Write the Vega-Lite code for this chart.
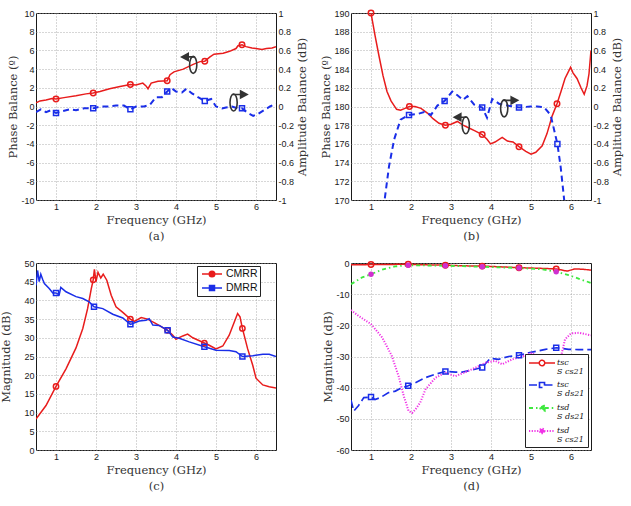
{
  "$schema": "https://vega.github.io/schema/vega-lite/v6.json",
  "background": "white",
  "padding": {"left": 0, "top": 6, "right": 2, "bottom": 2},
  "spacing": 16,
  "datasets": {
    "a_phase": [
      {"f": 0.5, "v": 0.4}, {"f": 0.6, "v": 0.6}, {"f": 0.75, "v": 0.7}, {"f": 0.9, "v": 0.85}, {"f": 1, "v": 0.8},
      {"f": 1.2, "v": 0.95}, {"f": 1.5, "v": 1.15}, {"f": 1.75, "v": 1.35}, {"f": 1.93, "v": 1.45}, {"f": 2.1, "v": 1.6},
      {"f": 2.34, "v": 1.9}, {"f": 2.6, "v": 2.15}, {"f": 2.86, "v": 2.35}, {"f": 3.0, "v": 2.3}, {"f": 3.17, "v": 2.5},
      {"f": 3.25, "v": 2.2}, {"f": 3.3, "v": 1.9}, {"f": 3.38, "v": 2.5}, {"f": 3.55, "v": 2.7}, {"f": 3.78, "v": 2.75},
      {"f": 3.85, "v": 3.4}, {"f": 3.95, "v": 3.7}, {"f": 4.18, "v": 4.0}, {"f": 4.43, "v": 4.5}, {"f": 4.6, "v": 4.8},
      {"f": 4.72, "v": 4.85}, {"f": 4.85, "v": 5.3}, {"f": 4.95, "v": 5.6}, {"f": 5.18, "v": 5.7}, {"f": 5.34, "v": 5.9},
      {"f": 5.5, "v": 6.2}, {"f": 5.55, "v": 6.5}, {"f": 5.65, "v": 6.6}, {"f": 5.75, "v": 6.4}, {"f": 5.9, "v": 6.25},
      {"f": 6.0, "v": 6.2}, {"f": 6.15, "v": 6.1}, {"f": 6.26, "v": 6.2}, {"f": 6.4, "v": 6.25}, {"f": 6.5, "v": 6.4}
    ],
    "a_amp": [
      {"f": 0.5, "v": -0.06}, {"f": 0.62, "v": -0.03}, {"f": 0.75, "v": -0.06}, {"f": 0.87, "v": -0.04}, {"f": 1, "v": -0.07},
      {"f": 1.15, "v": -0.05}, {"f": 1.35, "v": -0.03}, {"f": 1.5, "v": -0.04}, {"f": 1.7, "v": -0.02}, {"f": 1.93, "v": -0.02},
      {"f": 2.1, "v": 0.0}, {"f": 2.3, "v": 0.0}, {"f": 2.5, "v": 0.01}, {"f": 2.7, "v": 0.01}, {"f": 2.86, "v": -0.03},
      {"f": 3.0, "v": 0.0}, {"f": 3.2, "v": 0.0}, {"f": 3.35, "v": 0.02}, {"f": 3.5, "v": 0.1}, {"f": 3.65, "v": 0.1},
      {"f": 3.78, "v": 0.16}, {"f": 3.88, "v": 0.2}, {"f": 4.0, "v": 0.16}, {"f": 4.15, "v": 0.15}, {"f": 4.26, "v": 0.19},
      {"f": 4.4, "v": 0.14}, {"f": 4.55, "v": 0.1}, {"f": 4.72, "v": 0.06}, {"f": 4.88, "v": 0.08}, {"f": 5.0, "v": 0.0},
      {"f": 5.15, "v": -0.02}, {"f": 5.25, "v": -0.01}, {"f": 5.4, "v": 0.0}, {"f": 5.55, "v": -0.02}, {"f": 5.65, "v": -0.02},
      {"f": 5.8, "v": -0.07}, {"f": 5.93, "v": -0.1}, {"f": 6.05, "v": -0.08}, {"f": 6.2, "v": -0.04}, {"f": 6.35, "v": 0.0},
      {"f": 6.5, "v": 0.03}
    ],
    "b_phase": [
      {"f": 1, "v": 190}, {"f": 1.05, "v": 188.8}, {"f": 1.1, "v": 187.6}, {"f": 1.2, "v": 185.4}, {"f": 1.3, "v": 183.3},
      {"f": 1.4, "v": 181.6}, {"f": 1.5, "v": 180.6}, {"f": 1.64, "v": 179.7}, {"f": 1.74, "v": 179.6}, {"f": 1.85, "v": 179.8},
      {"f": 1.96, "v": 180.0}, {"f": 2.1, "v": 180.0}, {"f": 2.25, "v": 179.8}, {"f": 2.41, "v": 179.3}, {"f": 2.55, "v": 178.7},
      {"f": 2.7, "v": 178.2}, {"f": 2.86, "v": 178.0}, {"f": 3.0, "v": 178.1}, {"f": 3.16, "v": 178.4}, {"f": 3.3, "v": 178.0},
      {"f": 3.45, "v": 177.7}, {"f": 3.6, "v": 177.4}, {"f": 3.78, "v": 177.0}, {"f": 3.9, "v": 176.5}, {"f": 3.99, "v": 176.0},
      {"f": 4.1, "v": 176.2}, {"f": 4.28, "v": 176.7}, {"f": 4.41, "v": 176.3}, {"f": 4.55, "v": 176.2}, {"f": 4.7, "v": 175.7},
      {"f": 4.87, "v": 175.2}, {"f": 5.0, "v": 174.9}, {"f": 5.12, "v": 175.1}, {"f": 5.28, "v": 175.8}, {"f": 5.4, "v": 177.1},
      {"f": 5.53, "v": 179.0}, {"f": 5.65, "v": 180.3}, {"f": 5.75, "v": 181.6}, {"f": 5.85, "v": 183.0}, {"f": 5.92, "v": 183.6},
      {"f": 5.99, "v": 184.2}, {"f": 6.05, "v": 183.6}, {"f": 6.15, "v": 183.0}, {"f": 6.25, "v": 182.0}, {"f": 6.33, "v": 181.3},
      {"f": 6.4, "v": 182.2}, {"f": 6.45, "v": 183.5}, {"f": 6.5, "v": 186.0}
    ],
    "b_amp": [
      {"f": 1.25, "v": -1.3}, {"f": 1.34, "v": -1.0}, {"f": 1.45, "v": -0.64}, {"f": 1.58, "v": -0.35}, {"f": 1.74, "v": -0.14},
      {"f": 1.95, "v": -0.09}, {"f": 2.16, "v": -0.08}, {"f": 2.33, "v": -0.06}, {"f": 2.5, "v": -0.09}, {"f": 2.66, "v": 0.01},
      {"f": 2.84, "v": 0.06}, {"f": 3.03, "v": 0.16}, {"f": 3.16, "v": 0.12}, {"f": 3.3, "v": 0.07}, {"f": 3.41, "v": 0.11},
      {"f": 3.58, "v": 0.02}, {"f": 3.78, "v": -0.01}, {"f": 3.9, "v": -0.12}, {"f": 4.03, "v": 0.08}, {"f": 4.2, "v": 0.03},
      {"f": 4.41, "v": 0.01}, {"f": 4.7, "v": -0.01}, {"f": 4.99, "v": 0.0}, {"f": 5.16, "v": 0.0}, {"f": 5.33, "v": -0.01},
      {"f": 5.49, "v": -0.09}, {"f": 5.66, "v": -0.4}, {"f": 5.74, "v": -0.64}, {"f": 5.83, "v": -1.0}, {"f": 5.9, "v": -1.3}
    ],
    "c": [
      {"s": "CMRR", "f": 0.5, "v": 8.3}, {"s": "CMRR", "f": 0.75, "v": 11.9}, {"s": "CMRR", "f": 1, "v": 17.0},
      {"s": "CMRR", "f": 1.25, "v": 21.7}, {"s": "CMRR", "f": 1.5, "v": 27.3}, {"s": "CMRR", "f": 1.67, "v": 32.5},
      {"s": "CMRR", "f": 1.79, "v": 37.8}, {"s": "CMRR", "f": 1.88, "v": 43.0}, {"s": "CMRR", "f": 1.93, "v": 45.5},
      {"s": "CMRR", "f": 1.96, "v": 48.3}, {"s": "CMRR", "f": 2.0, "v": 45.0}, {"s": "CMRR", "f": 2.05, "v": 47.5},
      {"s": "CMRR", "f": 2.12, "v": 46.0}, {"s": "CMRR", "f": 2.18, "v": 47.0}, {"s": "CMRR", "f": 2.27, "v": 45.4},
      {"s": "CMRR", "f": 2.38, "v": 41.4}, {"s": "CMRR", "f": 2.5, "v": 38.3}, {"s": "CMRR", "f": 2.67, "v": 36.8},
      {"s": "CMRR", "f": 2.86, "v": 35.0}, {"s": "CMRR", "f": 2.96, "v": 34.4}, {"s": "CMRR", "f": 3.13, "v": 35.4},
      {"s": "CMRR", "f": 3.29, "v": 35.0}, {"s": "CMRR", "f": 3.5, "v": 33.8}, {"s": "CMRR", "f": 3.79, "v": 32.0},
      {"s": "CMRR", "f": 3.92, "v": 30.7}, {"s": "CMRR", "f": 4.0, "v": 29.6}, {"s": "CMRR", "f": 4.17, "v": 30.5},
      {"s": "CMRR", "f": 4.29, "v": 31.0}, {"s": "CMRR", "f": 4.42, "v": 30.0}, {"s": "CMRR", "f": 4.71, "v": 28.6},
      {"s": "CMRR", "f": 4.83, "v": 28.0}, {"s": "CMRR", "f": 5.0, "v": 27.0}, {"s": "CMRR", "f": 5.17, "v": 27.8},
      {"s": "CMRR", "f": 5.33, "v": 30.7}, {"s": "CMRR", "f": 5.46, "v": 34.3}, {"s": "CMRR", "f": 5.54, "v": 36.5},
      {"s": "CMRR", "f": 5.6, "v": 35.6}, {"s": "CMRR", "f": 5.66, "v": 32.5}, {"s": "CMRR", "f": 5.79, "v": 27.1},
      {"s": "CMRR", "f": 5.92, "v": 22.6}, {"s": "CMRR", "f": 6.0, "v": 19.2}, {"s": "CMRR", "f": 6.17, "v": 17.4},
      {"s": "CMRR", "f": 6.33, "v": 16.9}, {"s": "CMRR", "f": 6.5, "v": 16.6},
      {"s": "DMRR", "f": 0.5, "v": 44.0}, {"s": "DMRR", "f": 0.54, "v": 48.0}, {"s": "DMRR", "f": 0.58, "v": 45.0},
      {"s": "DMRR", "f": 0.62, "v": 47.0}, {"s": "DMRR", "f": 0.67, "v": 45.5}, {"s": "DMRR", "f": 0.71, "v": 44.5},
      {"s": "DMRR", "f": 0.83, "v": 43.2}, {"s": "DMRR", "f": 0.92, "v": 42.0}, {"s": "DMRR", "f": 1, "v": 42.0},
      {"s": "DMRR", "f": 1.08, "v": 41.5}, {"s": "DMRR", "f": 1.12, "v": 43.5}, {"s": "DMRR", "f": 1.25, "v": 42.3},
      {"s": "DMRR", "f": 1.5, "v": 41.0}, {"s": "DMRR", "f": 1.67, "v": 40.5}, {"s": "DMRR", "f": 1.83, "v": 39.6},
      {"s": "DMRR", "f": 1.95, "v": 38.3}, {"s": "DMRR", "f": 2.17, "v": 37.8}, {"s": "DMRR", "f": 2.42, "v": 36.3},
      {"s": "DMRR", "f": 2.67, "v": 35.3}, {"s": "DMRR", "f": 2.86, "v": 33.6}, {"s": "DMRR", "f": 3.08, "v": 34.5},
      {"s": "DMRR", "f": 3.25, "v": 34.7}, {"s": "DMRR", "f": 3.33, "v": 35.1}, {"s": "DMRR", "f": 3.42, "v": 33.4},
      {"s": "DMRR", "f": 3.58, "v": 33.3}, {"s": "DMRR", "f": 3.79, "v": 32.0}, {"s": "DMRR", "f": 3.92, "v": 30.2},
      {"s": "DMRR", "f": 4.08, "v": 29.9}, {"s": "DMRR", "f": 4.33, "v": 28.9}, {"s": "DMRR", "f": 4.71, "v": 27.6},
      {"s": "DMRR", "f": 5.0, "v": 26.7}, {"s": "DMRR", "f": 5.33, "v": 26.6}, {"s": "DMRR", "f": 5.5, "v": 26.3},
      {"s": "DMRR", "f": 5.66, "v": 25.0}, {"s": "DMRR", "f": 5.92, "v": 25.2}, {"s": "DMRR", "f": 6.17, "v": 25.6},
      {"s": "DMRR", "f": 6.33, "v": 25.6}, {"s": "DMRR", "f": 6.5, "v": 25.0}
    ],
    "d": [
      {"s": "cs21|tsc", "f": 0.5, "v": -0.6}, {"s": "cs21|tsc", "f": 1, "v": -0.5}, {"s": "cs21|tsc", "f": 1.5, "v": -0.45},
      {"s": "cs21|tsc", "f": 1.93, "v": -0.4}, {"s": "cs21|tsc", "f": 2.4, "v": -0.6}, {"s": "cs21|tsc", "f": 2.86, "v": -0.7},
      {"s": "cs21|tsc", "f": 3.3, "v": -0.9}, {"s": "cs21|tsc", "f": 3.78, "v": -1.0}, {"s": "cs21|tsc", "f": 4.2, "v": -1.2},
      {"s": "cs21|tsc", "f": 4.7, "v": -1.5}, {"s": "cs21|tsc", "f": 5.2, "v": -1.7}, {"s": "cs21|tsc", "f": 5.63, "v": -1.9},
      {"s": "cs21|tsc", "f": 5.9, "v": -2.6}, {"s": "cs21|tsc", "f": 6.1, "v": -1.9}, {"s": "cs21|tsc", "f": 6.3, "v": -2.0},
      {"s": "cs21|tsc", "f": 6.5, "v": -2.3},
      {"s": "ds21|tsc", "f": 0.5, "v": -44.0}, {"s": "ds21|tsc", "f": 0.57, "v": -47.5}, {"s": "ds21|tsc", "f": 0.69, "v": -45.7},
      {"s": "ds21|tsc", "f": 0.82, "v": -43.2}, {"s": "ds21|tsc", "f": 1, "v": -43.0}, {"s": "ds21|tsc", "f": 1.1, "v": -43.8},
      {"s": "ds21|tsc", "f": 1.23, "v": -43.2}, {"s": "ds21|tsc", "f": 1.44, "v": -41.6}, {"s": "ds21|tsc", "f": 1.61, "v": -41.1},
      {"s": "ds21|tsc", "f": 1.73, "v": -40.3}, {"s": "ds21|tsc", "f": 1.93, "v": -39.4}, {"s": "ds21|tsc", "f": 2.11, "v": -38.4},
      {"s": "ds21|tsc", "f": 2.36, "v": -36.8}, {"s": "ds21|tsc", "f": 2.61, "v": -35.7}, {"s": "ds21|tsc", "f": 2.86, "v": -34.8},
      {"s": "ds21|tsc", "f": 3.11, "v": -35.0}, {"s": "ds21|tsc", "f": 3.28, "v": -35.0}, {"s": "ds21|tsc", "f": 3.53, "v": -34.3},
      {"s": "ds21|tsc", "f": 3.78, "v": -33.5}, {"s": "ds21|tsc", "f": 3.98, "v": -30.6}, {"s": "ds21|tsc", "f": 4.19, "v": -30.9},
      {"s": "ds21|tsc", "f": 4.44, "v": -30.0}, {"s": "ds21|tsc", "f": 4.7, "v": -29.6}, {"s": "ds21|tsc", "f": 4.94, "v": -28.8},
      {"s": "ds21|tsc", "f": 5.19, "v": -28.2}, {"s": "ds21|tsc", "f": 5.36, "v": -27.7}, {"s": "ds21|tsc", "f": 5.63, "v": -27.2},
      {"s": "ds21|tsc", "f": 5.94, "v": -27.7}, {"s": "ds21|tsc", "f": 6.19, "v": -27.8}, {"s": "ds21|tsc", "f": 6.5, "v": -27.8},
      {"s": "ds21|tsd", "f": 0.5, "v": -6.8}, {"s": "ds21|tsd", "f": 0.78, "v": -4.6}, {"s": "ds21|tsd", "f": 1, "v": -3.6},
      {"s": "ds21|tsd", "f": 1.28, "v": -2.1}, {"s": "ds21|tsd", "f": 1.6, "v": -1.1}, {"s": "ds21|tsd", "f": 1.93, "v": -0.7},
      {"s": "ds21|tsd", "f": 2.4, "v": -0.8}, {"s": "ds21|tsd", "f": 2.86, "v": -0.9}, {"s": "ds21|tsd", "f": 3.3, "v": -1.0},
      {"s": "ds21|tsd", "f": 3.78, "v": -1.2}, {"s": "ds21|tsd", "f": 4.2, "v": -1.4}, {"s": "ds21|tsd", "f": 4.7, "v": -1.6},
      {"s": "ds21|tsd", "f": 5.28, "v": -2.0}, {"s": "ds21|tsd", "f": 5.63, "v": -2.8}, {"s": "ds21|tsd", "f": 5.94, "v": -3.9},
      {"s": "ds21|tsd", "f": 6.23, "v": -5.2}, {"s": "ds21|tsd", "f": 6.5, "v": -6.4},
      {"s": "cs21|tsd", "f": 0.5, "v": -15.1}, {"s": "cs21|tsd", "f": 0.69, "v": -17.0}, {"s": "cs21|tsd", "f": 1, "v": -19.6},
      {"s": "cs21|tsd", "f": 1.28, "v": -23.9}, {"s": "cs21|tsd", "f": 1.52, "v": -29.8}, {"s": "cs21|tsd", "f": 1.69, "v": -36.3},
      {"s": "cs21|tsd", "f": 1.82, "v": -42.7}, {"s": "cs21|tsd", "f": 1.94, "v": -47.5}, {"s": "cs21|tsd", "f": 2.03, "v": -48.1},
      {"s": "cs21|tsd", "f": 2.11, "v": -47.0}, {"s": "cs21|tsd", "f": 2.23, "v": -44.8}, {"s": "cs21|tsd", "f": 2.36, "v": -40.6},
      {"s": "cs21|tsd", "f": 2.61, "v": -36.8}, {"s": "cs21|tsd", "f": 2.86, "v": -35.2}, {"s": "cs21|tsd", "f": 3.11, "v": -36.3},
      {"s": "cs21|tsd", "f": 3.36, "v": -35.0}, {"s": "cs21|tsd", "f": 3.61, "v": -33.6}, {"s": "cs21|tsd", "f": 3.86, "v": -32.0},
      {"s": "cs21|tsd", "f": 4.11, "v": -31.4}, {"s": "cs21|tsd", "f": 4.28, "v": -32.5}, {"s": "cs21|tsd", "f": 4.53, "v": -30.9},
      {"s": "cs21|tsd", "f": 4.78, "v": -30.0}, {"s": "cs21|tsd", "f": 5.03, "v": -28.8}, {"s": "cs21|tsd", "f": 5.19, "v": -30.9},
      {"s": "cs21|tsd", "f": 5.36, "v": -33.0}, {"s": "cs21|tsd", "f": 5.5, "v": -36.0}, {"s": "cs21|tsd", "f": 5.62, "v": -37.0},
      {"s": "cs21|tsd", "f": 5.75, "v": -30.0}, {"s": "cs21|tsd", "f": 5.85, "v": -24.5}, {"s": "cs21|tsd", "f": 6.0, "v": -22.6},
      {"s": "cs21|tsd", "f": 6.2, "v": -22.4}, {"s": "cs21|tsd", "f": 6.5, "v": -23.2}
    ]
  },
  "vconcat": [
    {
      "spacing": 11,
      "hconcat": [
        {
          "width": 240, "height": 187,
          "encoding": {
            "x": {"field": "f", "type": "quantitative", "scale": {"domain": [0.5, 6.5], "nice": false, "zero": false},
                  "axis": {"values": [1, 2, 3, 4, 5, 6], "title": ["Frequency (GHz)", "(a)"], "titleLineHeight": 16, "titlePadding": 3}}
          },
          "layer": [
            {
              "data": {"name": "a_phase"},
              "encoding": {
                "y": {"field": "v", "type": "quantitative", "scale": {"domain": [-10, 10], "nice": false, "zero": false},
                      "axis": {"values": [-10, -8, -6, -4, -2, 0, 2, 4, 6, 8, 10], "labelExpr": "'' + datum.value", "title": "Phase Balance (º)", "titlePadding": 2}}
              },
              "layer": [
                {"mark": {"type": "line", "color": "#e81c1c", "strokeWidth": 1.5, "clip": true}},
                {"transform": [{"filter": {"field": "f", "oneOf": [1, 1.93, 2.86, 3.78, 4.72, 5.65]}}],
                 "mark": {"type": "point", "shape": "circle", "stroke": "#e81c1c", "filled": false, "size": 30, "strokeWidth": 1.5, "opacity": 1}},
                {"data": {"values": [{"f": 4.43, "v": 4.45}]},
                 "mark": {"type": "point", "shape": "M0,-0.85A0.36,0.85 0 1,1 0,0.85A0.36,0.85 0 1,1 0,-0.85", "size": 400, "filled": false, "stroke": "#333", "strokeWidth": 1.6, "opacity": 1}},
                {"data": {"values": [{"f": 4.43, "v": 4.45}]},
                 "mark": {"type": "point", "shape": "M0.1,-0.8L-0.55,-0.8M-0.5,-1.15L-1.15,-0.8L-0.5,-0.45Z", "size": 400, "filled": true, "fill": "#333", "stroke": "#333", "strokeWidth": 1.6, "opacity": 1}}
              ]
            },
            {
              "data": {"name": "a_amp"},
              "encoding": {
                "y": {"field": "v", "type": "quantitative", "scale": {"domain": [-1, 1], "nice": false, "zero": false},
                      "axis": {"orient": "right", "grid": false, "values": [-1, -0.8, -0.6, -0.4, -0.2, 0, 0.2, 0.4, 0.6, 0.8, 1], "labelExpr": "'' + datum.value", "title": "Amplitude Balance (dB)", "titleAngle": 270, "titleBaseline": "top", "titlePadding": 3}}
              },
              "layer": [
                {"mark": {"type": "line", "color": "#1a2ee8", "strokeWidth": 2, "strokeDash": [6, 4], "clip": true}},
                {"transform": [{"filter": {"field": "f", "oneOf": [1, 1.93, 2.86, 3.78, 4.72, 5.65]}}],
                 "mark": {"type": "point", "shape": "square", "stroke": "#1a2ee8", "filled": false, "size": 25, "strokeWidth": 1.5, "opacity": 1}},
                {"data": {"values": [{"f": 5.44, "v": 0.043}]},
                 "mark": {"type": "point", "shape": "M0,-0.85A0.36,0.85 0 1,1 0,0.85A0.36,0.85 0 1,1 0,-0.85", "size": 400, "filled": false, "stroke": "#333", "strokeWidth": 1.6, "opacity": 1}},
                {"data": {"values": [{"f": 5.44, "v": 0.043}]},
                 "mark": {"type": "point", "shape": "M-0.1,-0.8L0.7,-0.8M0.7,-1.15L1.35,-0.8L0.7,-0.45Z", "size": 400, "filled": true, "fill": "#333", "stroke": "#333", "strokeWidth": 1.6, "opacity": 1}}
              ]
            }
          ],
          "resolve": {"scale": {"y": "independent"}}
        },
        {
          "width": 240, "height": 187,
          "encoding": {
            "x": {"field": "f", "type": "quantitative", "scale": {"domain": [0.5, 6.5], "nice": false, "zero": false},
                  "axis": {"values": [1, 2, 3, 4, 5, 6], "title": ["Frequency (GHz)", "(b)"], "titleLineHeight": 16, "titlePadding": 3}}
          },
          "layer": [
            {
              "data": {"name": "b_phase"},
              "encoding": {
                "y": {"field": "v", "type": "quantitative", "scale": {"domain": [170, 190], "nice": false, "zero": false},
                      "axis": {"values": [170, 172, 174, 176, 178, 180, 182, 184, 186, 188, 190], "title": "Phase Balance (º)", "titlePadding": 2}}
              },
              "layer": [
                {"mark": {"type": "line", "color": "#e81c1c", "strokeWidth": 1.5, "clip": true}},
                {"transform": [{"filter": {"field": "f", "oneOf": [1, 1.96, 2.86, 3.78, 4.7, 5.65]}}],
                 "mark": {"type": "point", "shape": "circle", "stroke": "#e81c1c", "filled": false, "size": 30, "strokeWidth": 1.5, "opacity": 1}},
                {"data": {"values": [{"f": 3.37, "v": 178.0}]},
                 "mark": {"type": "point", "shape": "M0,-0.85A0.36,0.85 0 1,1 0,0.85A0.36,0.85 0 1,1 0,-0.85", "size": 400, "filled": false, "stroke": "#333", "strokeWidth": 1.6, "opacity": 1}},
                {"data": {"values": [{"f": 3.37, "v": 178.0}]},
                 "mark": {"type": "point", "shape": "M0.1,-0.8L-0.55,-0.8M-0.5,-1.15L-1.15,-0.8L-0.5,-0.45Z", "size": 400, "filled": true, "fill": "#333", "stroke": "#333", "strokeWidth": 1.6, "opacity": 1}}
              ]
            },
            {
              "data": {"name": "b_amp"},
              "encoding": {
                "y": {"field": "v", "type": "quantitative", "scale": {"domain": [-1, 1], "nice": false, "zero": false},
                      "axis": {"orient": "right", "grid": false, "values": [-1, -0.8, -0.6, -0.4, -0.2, 0, 0.2, 0.4, 0.6, 0.8, 1], "labelExpr": "'' + datum.value", "title": "Amplitude Balance (dB)", "titleAngle": 270, "titleBaseline": "top", "titlePadding": 3}}
              },
              "layer": [
                {"mark": {"type": "line", "color": "#1a2ee8", "strokeWidth": 2, "strokeDash": [6, 4], "clip": true}},
                {"transform": [{"filter": {"field": "f", "oneOf": [1.95, 2.84, 3.78, 4.7, 5.66]}}],
                 "mark": {"type": "point", "shape": "square", "stroke": "#1a2ee8", "filled": false, "size": 25, "strokeWidth": 1.5, "opacity": 1}},
                {"data": {"values": [{"f": 4.33, "v": -0.02}]},
                 "mark": {"type": "point", "shape": "M0,-0.85A0.36,0.85 0 1,1 0,0.85A0.36,0.85 0 1,1 0,-0.85", "size": 400, "filled": false, "stroke": "#333", "strokeWidth": 1.6, "opacity": 1}},
                {"data": {"values": [{"f": 4.33, "v": -0.02}]},
                 "mark": {"type": "point", "shape": "M-0.1,-0.8L0.7,-0.8M0.7,-1.15L1.35,-0.8L0.7,-0.45Z", "size": 400, "filled": true, "fill": "#333", "stroke": "#333", "strokeWidth": 1.6, "opacity": 1}}
              ]
            }
          ],
          "resolve": {"scale": {"y": "independent"}}
        }
      ]
    },
    {
      "spacing": 45,
      "resolve": {"scale": {"color": "independent", "strokeDash": "independent", "strokeWidth": "independent", "y": "independent", "x": "independent"}, "legend": {"color": "independent"}},
      "hconcat": [
        {
          "width": 240, "height": 187,
          "data": {"name": "c"},
          "encoding": {
            "x": {"field": "f", "type": "quantitative", "scale": {"domain": [0.5, 6.5], "nice": false, "zero": false},
                  "axis": {"values": [1, 2, 3, 4, 5, 6], "title": ["Frequency (GHz)", "(c)"], "titleLineHeight": 16, "titlePadding": 3}},
            "y": {"field": "v", "type": "quantitative", "scale": {"domain": [0, 50], "nice": false, "zero": false},
                  "axis": {"values": [0, 5, 10, 15, 20, 25, 30, 35, 40, 45, 50], "title": "Magnitude (dB)", "titlePadding": 12}}
          },
          "layer": [
            {"mark": {"type": "line", "strokeWidth": 1.5, "clip": true},
             "encoding": {
               "color": {"field": "s", "type": "nominal", "scale": {"domain": ["CMRR", "DMRR"], "range": ["#e81c1c", "#1a2ee8"]},
                         "legend": {"orient": "none", "legendX": 161, "legendY": 3, "title": null, "fillColor": "white", "strokeColor": "#222",
                                    "padding": 2, "symbolSize": 100, "symbolOffset": 7, "labelOffset": 8, "rowPadding": 2,
                                    "labelFont": "Liberation Sans", "labelFontSize": 10.5, "labelColor": "#111",
                                    "encode": {"symbols": {"update": {
                                      "shape": {"signal": "datum.value == 'CMRR' ? 'M-2,0H-0.55M0.55,0H2M0.55,0A0.55,0.55 0 1,1 -0.55,0A0.55,0.55 0 1,1 0.55,0' : 'M-2,0H-0.5M0.5,0H2M-0.5,-0.5H0.5V0.5H-0.5Z'"},
                                      "fill": {"signal": "datum.value == 'CMRR' ? '#e81c1c' : '#1a2ee8'"},
                                      "stroke": {"signal": "datum.value == 'CMRR' ? '#e81c1c' : '#1a2ee8'"},
                                      "strokeWidth": {"value": 1.5},
                                      "opacity": {"value": 1}
                                    }}}}}
             }},
            {"transform": [{"filter": {"field": "f", "oneOf": [1, 1.93, 2.86, 3.79, 4.71, 5.66]}}, {"filter": "datum.s == 'CMRR'"}],
             "mark": {"type": "point", "shape": "circle", "filled": false, "stroke": "#e81c1c", "size": 28, "strokeWidth": 1.5, "opacity": 1}},
            {"transform": [{"filter": {"field": "f", "oneOf": [1, 1.95, 2.86, 3.79, 4.71, 5.66]}}, {"filter": "datum.s == 'DMRR'"}],
             "mark": {"type": "point", "shape": "square", "filled": false, "stroke": "#1a2ee8", "size": 25, "strokeWidth": 1.5, "opacity": 1}}
          ]
        },
        {
          "width": 240, "height": 187,
          "data": {"name": "d"},
          "encoding": {
            "x": {"field": "f", "type": "quantitative", "scale": {"domain": [0.5, 6.5], "nice": false, "zero": false},
                  "axis": {"values": [1, 2, 3, 4, 5, 6], "title": ["Frequency (GHz)", "(d)"], "titleLineHeight": 16, "titlePadding": 3}},
            "y": {"field": "v", "type": "quantitative", "scale": {"domain": [-60, 0], "nice": false, "zero": false},
                  "axis": {"values": [-60, -50, -40, -30, -20, -10, 0], "labelExpr": "'' + datum.value", "title": "Magnitude (dB)", "titlePadding": 2}}
          },
          "layer": [
            {
              "mark": {"type": "line", "clip": true},
              "encoding": {
                "color": {"field": "s", "type": "nominal",
                          "scale": {"domain": ["cs21|tsc", "ds21|tsc", "ds21|tsd", "cs21|tsd"], "range": ["#e81c1c", "#1a2ee8", "#3ee83e", "#f032e6"]},
                          "legend": {"orient": "bottom-right", "offset": 3, "title": null, "fillColor": "white", "strokeColor": "#222",
                                     "padding": 3, "symbolSize": 100, "symbolOffset": 8, "labelOffset": 9, "rowPadding": 3,
                                     "labelFont": "DejaVu Serif", "labelFontStyle": "italic", "labelFontSize": 8, "labelColor": "#111",
                                     "labelExpr": "['  ' + split(datum.value, '|')[1], 'S ' + split(datum.value, '|')[0]]",
                                     "encode": {
                                       "labels": {"update": {"lineHeight": {"value": 8.5}}},
                                       "symbols": {"update": {
                                         "shape": {"signal": "datum.value == 'cs21|tsc' ? 'M-2.6,0H-0.55M0.55,0H2.6M0.55,0A0.55,0.55 0 1,1 -0.55,0A0.55,0.55 0 1,1 0.55,0' : datum.value == 'ds21|tsc' ? 'M-2.6,0H-0.5M0.5,0H2.6M-0.5,-0.5H0.5V0.5H-0.5Z' : datum.value == 'ds21|tsd' ? 'M-2.6,0H-0.55M0.55,0H2.6M0.55,-0.55L-0.6,0L0.55,0.55Z' : 'M-2.6,0H-0.45M0.45,0H2.6M0.45,0A0.45,0.45 0 1,1 -0.45,0A0.45,0.45 0 1,1 0.45,0'"},
                                         "fill": {"signal": "datum.value == 'cs21|tsc' ? 'white' : datum.value == 'ds21|tsc' ? 'white' : datum.value == 'ds21|tsd' ? '#3ee83e' : '#f032e6'"},
                                         "stroke": {"signal": "datum.value == 'cs21|tsc' ? '#e81c1c' : datum.value == 'ds21|tsc' ? '#1a2ee8' : datum.value == 'ds21|tsd' ? '#3ee83e' : '#f032e6'"},
                                         "strokeDash": {"signal": "datum.value == 'ds21|tsc' ? [5, 3] : datum.value == 'ds21|tsd' ? [3, 2, 1, 2] : datum.value == 'cs21|tsd' ? [1, 1.5] : [1, 0]"},
                                         "strokeWidth": {"value": 1.5},
                                         "opacity": {"value": 1}
                                       }}
                                     }}},
                "strokeDash": {"field": "s", "type": "nominal",
                               "scale": {"domain": ["cs21|tsc", "ds21|tsc", "ds21|tsd", "cs21|tsd"], "range": [[1, 0], [8, 4], [4, 3, 1.5, 3], [1.2, 1.5]]}, "legend": null},
                "strokeWidth": {"field": "s", "type": "nominal",
                                "scale": {"domain": ["cs21|tsc", "ds21|tsc", "ds21|tsd", "cs21|tsd"], "range": [1.5, 2, 2, 1.2]}, "legend": null}
              }
            },
            {"transform": [{"filter": {"field": "f", "oneOf": [1, 1.93, 2.86, 3.78, 4.7, 5.63]}}, {"filter": "datum.s == 'cs21|tsc'"}],
             "mark": {"type": "point", "shape": "circle", "filled": false, "stroke": "#e81c1c", "size": 30, "strokeWidth": 1.5, "opacity": 1}},
            {"transform": [{"filter": {"field": "f", "oneOf": [1, 1.93, 2.86, 3.78, 4.7, 5.63]}}, {"filter": "datum.s == 'ds21|tsc'"}],
             "mark": {"type": "point", "shape": "square", "filled": false, "stroke": "#1a2ee8", "size": 25, "strokeWidth": 1.5, "opacity": 1}},
            {"transform": [{"filter": {"field": "f", "oneOf": [1, 1.93, 2.86, 3.78, 4.7, 5.63]}}, {"filter": "datum.s == 'ds21|tsd'"}],
             "mark": {"type": "point", "shape": "circle", "filled": true, "fill": "#d030d0", "size": 30, "opacity": 1}}
          ]
        }
      ]
    }
  ],
  "config": {
    "view": {"stroke": "#1a1a1a", "strokeWidth": 1},
    "axis": {
      "labelFont": "Liberation Sans", "labelFontSize": 9, "labelColor": "#1a1a1a", "labelPadding": 2,
      "titleFont": "DejaVu Serif", "titleFontSize": 11.5, "titleFontWeight": "normal", "titleColor": "#333",
      "grid": true, "gridColor": "#9a9a9a", "gridDash": [1, 2], "gridWidth": 0.8, "gridOpacity": 1,
      "ticks": false, "domain": false
    }
  }
}
